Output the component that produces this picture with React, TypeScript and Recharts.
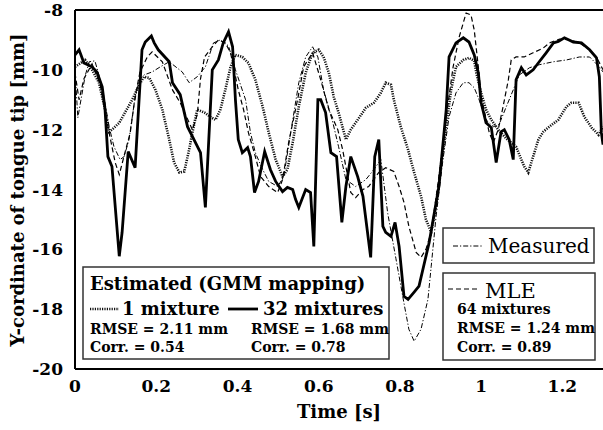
import React from 'react';
import { LineChart, Line, XAxis, YAxis } from 'recharts';

const W = 603;
const H = 430;
const FONT = '"DejaVu Serif", serif';

const xTicks = [0, 0.2, 0.4, 0.6, 0.8, 1, 1.2];
const yTicks = [-20, -18, -16, -14, -12, -10, -8];

// Measured (dash-dot)
const measuredT = [0, 0.007, 0.025, 0.035, 0.049, 0.067, 0.084, 0.096, 0.111, 0.121, 0.133, 0.146, 0.158, 0.17, 0.19, 0.21, 0.232, 0.264, 0.281, 0.301, 0.321, 0.341, 0.358, 0.378, 0.395, 0.42, 0.432, 0.444, 0.462, 0.477, 0.499, 0.514, 0.531, 0.551, 0.568, 0.585, 0.598, 0.612, 0.635, 0.649, 0.667, 0.691, 0.716, 0.736, 0.753, 0.77, 0.79, 0.81, 0.822, 0.835, 0.852, 0.869, 0.877, 0.889, 0.906, 0.921, 0.938, 0.956, 0.97, 0.983, 0.995, 1.012, 1.03, 1.044, 1.062, 1.079, 1.094, 1.119, 1.143, 1.178, 1.21, 1.242, 1.267, 1.291, 1.3];
const measuredY = [-10.0, -11.6, -10.2, -9.73, -9.7, -10.57, -11.9, -12.57, -13.0, -12.9, -12.33, -11.1, -10.33, -10.17, -10.07, -9.9, -9.73, -10.07, -10.43, -10.23, -9.9, -9.1, -9.0, -9.2, -10.0, -11.0, -12.1, -12.77, -13.33, -13.73, -13.9, -13.57, -12.1, -10.43, -9.57, -9.23, -9.57, -10.67, -11.77, -12.57, -13.67, -13.9, -13.67, -13.33, -13.0, -14.8, -16.3, -17.8, -18.67, -19.07, -18.67, -17.67, -16.57, -14.9, -13.0, -11.57, -10.77, -10.43, -10.43, -10.6, -11.0, -11.67, -11.9, -11.83, -11.23, -10.67, -10.17, -9.93, -9.83, -9.73, -9.67, -9.57, -9.57, -9.9, -10.07];

// Estimated, 1 mixture (dotted)
const mix1T = [0, 0.025, 0.042, 0.059, 0.074, 0.084, 0.091, 0.109, 0.123, 0.141, 0.158, 0.17, 0.183, 0.198, 0.215, 0.232, 0.244, 0.257, 0.269, 0.281, 0.289, 0.301, 0.319, 0.333, 0.346, 0.358, 0.37, 0.383, 0.395, 0.412, 0.427, 0.444, 0.462, 0.477, 0.494, 0.511, 0.523, 0.536, 0.551, 0.568, 0.585, 0.6, 0.612, 0.625, 0.637, 0.649, 0.667, 0.679, 0.696, 0.716, 0.736, 0.753, 0.765, 0.778, 0.785, 0.802, 0.82, 0.835, 0.852, 0.864, 0.877, 0.889, 0.901, 0.914, 0.926, 0.938, 0.956, 0.97, 0.983, 0.988, 1.0, 1.012, 1.025, 1.042, 1.062, 1.086, 1.106, 1.116, 1.128, 1.141, 1.153, 1.168, 1.19, 1.21, 1.222, 1.24, 1.254, 1.272, 1.289, 1.3];
const mix1Y = [-9.9, -9.67, -10.0, -10.43, -11.33, -12.07, -12.0, -11.77, -11.43, -11.0, -10.5, -10.23, -10.27, -10.67, -11.33, -12.33, -13.1, -13.43, -13.4, -12.67, -12.1, -11.33, -11.43, -11.57, -11.67, -11.33, -10.67, -9.9, -9.5, -9.57, -9.77, -10.33, -11.23, -12.1, -13.0, -13.57, -13.33, -12.43, -11.23, -10.1, -9.43, -9.33, -9.57, -10.1, -10.9, -11.43, -12.33, -12.0, -11.67, -11.27, -11.1, -10.77, -10.43, -10.5, -11.0, -11.9, -12.67, -13.43, -14.23, -15.0, -15.43, -14.57, -13.23, -11.9, -10.67, -9.9, -9.67, -9.6, -9.7, -10.1, -10.77, -11.33, -11.67, -12.0, -12.3, -12.57, -13.23, -13.43, -12.9, -12.33, -12.07, -11.9, -11.67, -11.23, -11.1, -11.1, -11.57, -11.93, -12.17, -11.9];

// Estimated, 32 mixtures (solid)
const mix32T = [0, 0.01, 0.022, 0.042, 0.054, 0.067, 0.074, 0.081, 0.091, 0.109, 0.116, 0.131, 0.148, 0.153, 0.165, 0.173, 0.188, 0.195, 0.205, 0.232, 0.24, 0.259, 0.277, 0.309, 0.321, 0.338, 0.353, 0.365, 0.378, 0.388, 0.395, 0.402, 0.412, 0.425, 0.432, 0.442, 0.452, 0.467, 0.481, 0.494, 0.511, 0.523, 0.536, 0.543, 0.551, 0.568, 0.58, 0.588, 0.598, 0.605, 0.617, 0.63, 0.644, 0.657, 0.667, 0.679, 0.696, 0.709, 0.728, 0.738, 0.748, 0.758, 0.765, 0.778, 0.788, 0.798, 0.81, 0.82, 0.835, 0.847, 0.872, 0.896, 0.914, 0.921, 0.938, 0.956, 0.97, 0.983, 0.993, 1.0, 1.012, 1.025, 1.037, 1.049, 1.057, 1.069, 1.079, 1.086, 1.099, 1.111, 1.128, 1.143, 1.16, 1.178, 1.19, 1.205, 1.227, 1.247, 1.267, 1.284, 1.291, 1.296, 1.3];
const mix32Y = [-9.5, -9.33, -9.77, -9.9, -10.07, -10.57, -11.33, -12.9, -13.23, -16.23, -15.43, -12.73, -13.27, -12.1, -9.33, -9.07, -8.87, -9.1, -9.33, -9.73, -10.43, -10.83, -11.9, -12.77, -14.6, -10.0, -9.67, -9.1, -8.73, -9.23, -11.0, -12.33, -12.77, -12.6, -12.9, -14.1, -13.73, -12.73, -13.33, -13.73, -14.07, -13.93, -14.0, -14.33, -14.6, -14.0, -14.1, -15.9, -11.0, -11.0, -11.43, -12.77, -12.9, -15.1, -13.9, -12.9, -13.57, -14.23, -16.27, -12.9, -12.33, -15.23, -15.43, -15.57, -15.1, -15.9, -17.57, -17.67, -17.43, -17.23, -15.77, -13.9, -11.33, -9.57, -9.1, -8.93, -9.07, -9.5, -10.1, -11.1, -11.77, -11.93, -13.1, -12.07, -12.0, -12.33, -13.0, -10.33, -9.93, -10.17, -10.0, -9.73, -9.43, -9.1, -9.05, -8.93, -9.07, -9.1, -9.33, -9.6, -10.23, -12.1, -12.5];

// MLE, 64 mixtures (dashed)
const mleT = [0, 0.01, 0.022, 0.042, 0.062, 0.084, 0.099, 0.109, 0.123, 0.136, 0.148, 0.16, 0.178, 0.19, 0.215, 0.24, 0.259, 0.289, 0.301, 0.309, 0.319, 0.338, 0.353, 0.37, 0.383, 0.402, 0.415, 0.427, 0.444, 0.457, 0.477, 0.499, 0.511, 0.526, 0.548, 0.563, 0.585, 0.605, 0.625, 0.647, 0.659, 0.679, 0.691, 0.709, 0.723, 0.748, 0.765, 0.785, 0.798, 0.81, 0.822, 0.84, 0.852, 0.864, 0.877, 0.894, 0.914, 0.931, 0.946, 0.963, 0.975, 0.983, 0.993, 1.0, 1.02, 1.03, 1.042, 1.054, 1.067, 1.074, 1.086, 1.106, 1.128, 1.153, 1.168, 1.193, 1.217, 1.242, 1.267, 1.284, 1.3];
const mleY = [-10.1, -11.0, -10.3, -9.8, -10.5, -12.1, -13.1, -13.5, -12.77, -12.1, -10.9, -10.07, -9.57, -9.4, -9.73, -10.67, -11.1, -12.0, -11.5, -10.3, -9.57, -9.23, -9.0, -9.1, -9.43, -10.67, -11.33, -12.1, -12.9, -13.57, -13.9, -14.1, -13.67, -12.43, -11.0, -9.9, -9.43, -10.33, -11.33, -12.0, -12.67, -14.1, -14.27, -14.0, -13.9, -13.43, -13.27, -13.4, -13.9, -14.43, -15.23, -16.1, -16.27, -16.0, -15.43, -13.77, -11.57, -9.9, -8.9, -8.1, -8.17, -8.67, -9.9, -10.9, -12.1, -12.43, -12.0, -11.23, -10.33, -9.67, -9.57, -9.57, -9.43, -9.27, -9.1, -8.97, -9.0, -9.1, -9.33, -9.57, -10.0];

const zip = (ts: number[], ys: number[]) => ts.map((t, i) => ({ t, y: ys[i] }));

const measured = zip(measuredT, measuredY);
const mix1 = zip(mix1T, mix1Y);
const mix32 = zip(mix32T, mix32Y);
const mle = zip(mleT, mleY);

const DASH_DOT = '5 2 1.2 2';
const DOTTED = '1.2 1.2';
const DASHED = '5 3';

const tickFont = { fontFamily: FONT, fontSize: 17, fontWeight: 'bold', fill: '#000' };
const innerTick = { stroke: '#000', strokeWidth: 1.5 };

export default function App() {
  return (
    <div style={{ position: 'fixed', left: 0, top: 0, width: W, height: H, background: '#fff' }}>
      <LineChart width={W} height={H} margin={{ top: 10, right: 0, bottom: 0, left: 0 }}>
        <XAxis
          xAxisId="x" dataKey="t" type="number" domain={[0, 1.3]} ticks={xTicks} allowDataOverflow
          height={61} tickLine={false} tickSize={0} tickMargin={11}
          axisLine={{ stroke: '#000', strokeWidth: 2 }} tick={tickFont}
        />
        <XAxis xAxisId="xb" type="number" domain={[0, 1.3]} ticks={xTicks} allowDataOverflow
          orientation="bottom" mirror tick={false} tickSize={5} axisLine={false} tickLine={innerTick} />
        <XAxis xAxisId="xt" type="number" domain={[0, 1.3]} ticks={xTicks} allowDataOverflow
          orientation="top" mirror tick={false} tickSize={5}
          axisLine={{ stroke: '#000', strokeWidth: 2 }} tickLine={innerTick} />
        <YAxis
          yAxisId="y" type="number" domain={[-20, -8]} ticks={yTicks} allowDataOverflow
          width={75} tickLine={false} tickSize={0} tickMargin={12}
          axisLine={{ stroke: '#000', strokeWidth: 2 }} tick={tickFont}
        />
        <YAxis yAxisId="yl" type="number" domain={[-20, -8]} ticks={yTicks} allowDataOverflow
          orientation="left" mirror tick={false} tickSize={5} axisLine={false} tickLine={innerTick} />
        <YAxis yAxisId="yr" type="number" domain={[-20, -8]} ticks={yTicks} allowDataOverflow
          orientation="right" mirror tick={false} tickSize={5} axisLine={false} tickLine={innerTick} />

        <Line xAxisId="x" yAxisId="y" data={mix1} dataKey="y" type="linear" dot={false}
          stroke="#111" strokeWidth={2.6} strokeDasharray={DOTTED} isAnimationActive={false} />
        <Line xAxisId="x" yAxisId="y" data={measured} dataKey="y" type="linear" dot={false}
          stroke="#000" strokeWidth={1} strokeDasharray={DASH_DOT} isAnimationActive={false} />
        <Line xAxisId="x" yAxisId="y" data={mle} dataKey="y" type="linear" dot={false}
          stroke="#000" strokeWidth={1.2} strokeDasharray={DASHED} isAnimationActive={false} />
        <Line xAxisId="x" yAxisId="y" data={mix32} dataKey="y" type="linear" dot={false}
          stroke="#000" strokeWidth={2.8} isAnimationActive={false} />
      </LineChart>

      <svg width={W} height={H} style={{ position: 'absolute', left: 0, top: 0, pointerEvents: 'none' }}
        fontFamily={FONT} fill="#000">
        <text transform="translate(24,190) rotate(-90)" textAnchor="middle" fontWeight="bold" fontSize={18}>
          Y-cordinate of tongue tip [mm]
        </text>
        <text x={339} y={418} textAnchor="middle" fontWeight="bold" fontSize={18}>Time [s]</text>

        {/* Estimated (GMM mapping) legend */}
        <rect x={83} y={267} width={306} height={92} fill="#fff" stroke="#333" strokeWidth={1.5} />
        <text x={90} y={290} fontSize={18} fontWeight="bold">Estimated (GMM mapping)</text>
        <line x1={90} x2={119} y1={309} y2={309} stroke="#111" strokeWidth={2.6} strokeDasharray={DOTTED} />
        <text x={122} y={315} fontSize={18} fontWeight="bold">1 mixture</text>
        <line x1={228} x2={258} y1={309} y2={309} stroke="#000" strokeWidth={2.8} />
        <text x={263} y={315} fontSize={18} fontWeight="bold">32 mixtures</text>
        <text x={90} y={334} fontSize={14} fontWeight="bold">RMSE = 2.11 mm</text>
        <text x={90} y={352} fontSize={14} fontWeight="bold">Corr. = 0.54</text>
        <text x={251} y={334} fontSize={14} fontWeight="bold">RMSE = 1.68 mm</text>
        <text x={251} y={352} fontSize={14} fontWeight="bold">Corr. = 0.78</text>

        {/* Measured legend */}
        <rect x={443} y={228} width={151} height={35} fill="#fff" stroke="#333" strokeWidth={1.5} />
        <line x1={453} x2={482} y1={246} y2={246} stroke="#000" strokeWidth={1} strokeDasharray={DASH_DOT} />
        <text x={488} y={253} fontSize={20}>Measured</text>

        {/* MLE legend */}
        <rect x={443} y={273} width={152} height={87} fill="#fff" stroke="#333" strokeWidth={1.5} />
        <line x1={448} x2={477} y1={289} y2={289} stroke="#000" strokeWidth={1.2} strokeDasharray={DASHED} />
        <text x={485} y={298} fontSize={21}>MLE</text>
        <text x={457} y={314} fontSize={14} fontWeight="bold">64 mixtures</text>
        <text x={457} y={333} fontSize={14} fontWeight="bold">RMSE = 1.24 mm</text>
        <text x={457} y={352} fontSize={14} fontWeight="bold">Corr. = 0.89</text>
      </svg>
    </div>
  );
}
